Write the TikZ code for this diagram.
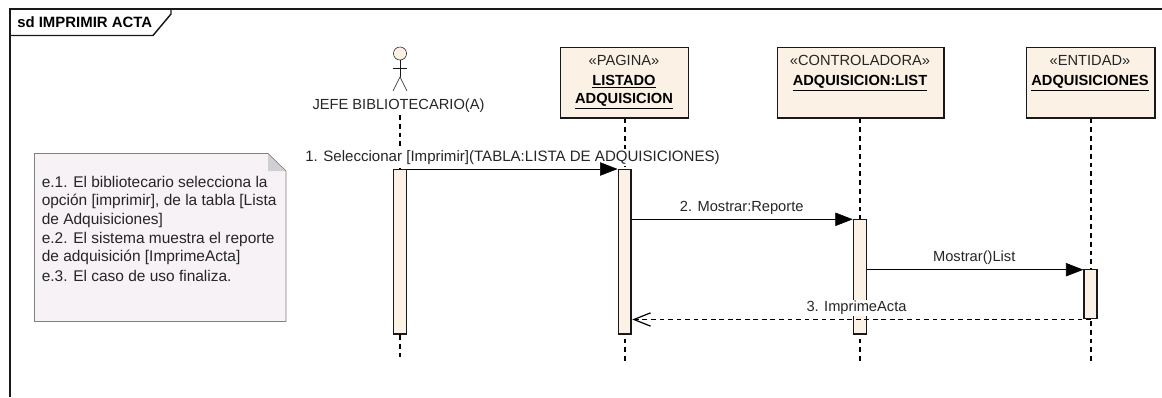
\documentclass[tikz,border=0pt]{standalone}
\usepackage{fontspec}
\setmainfont{Liberation Sans}
\usetikzlibrary{arrows.meta}
\definecolor{cream}{HTML}{FBF2E5}
\definecolor{notefill}{HTML}{F6F2F6}
\definecolor{notegray}{HTML}{808080}
\definecolor{foldgray}{HTML}{D0D0D4}
\tikzset{
  x=0.75pt,y=-0.75pt,
  line width=1pt,
  txt/.style={font=\fontsize{11}{13}\selectfont,inner sep=0pt,text=black!85},
  notetxt/.style={font=\fontsize{11.6}{13}\selectfont,inner sep=0pt,text=black!85,anchor=west},
  lbl/.style={txt,fill=white,inner xsep=1pt,inner ysep=1pt},
  headbox/.style={draw=black!90,fill=cream,line width=1.1pt,minimum height=53pt,inner sep=0pt},
  bar/.style={draw=black!90,fill=cream,inner sep=0pt,line width=1.1pt},
  lifeline/.style={draw=black,dash pattern=on 3.6pt off 3pt,line width=1pt},
  callarrow/.style={-{Triangle[length=13pt,width=10pt]},draw=black},
  retarrow/.style={-{Straight Barb[length=12.5pt,width=10pt,line width=0.9pt]},draw=black,dash pattern=on 3.6pt off 2.8pt},
  stereo/.style={font=\fontsize{11}{13}\selectfont,text=black!85,inner sep=0pt},
  boxname/.style={font=\fontsize{11}{13.5}\selectfont\bfseries,text=black,inner sep=0pt,align=center},
}
\begin{document}
\begin{tikzpicture}
\useasboundingbox (0,0) rectangle (1162,397);
% frame
\coordinate (fTL) at (10,9);
\coordinate (fTR) at (1162,9);
\coordinate (fBL) at (10,397);
\draw[line width=1.1pt,draw=black!90] (fTR) -- (fTL) -- (fBL);
\draw[line width=1.1pt,draw=black!90] (10,35.5) -- (153,35.5) -- (171,14) -- (171,9);
\node[anchor=west,font=\fontsize{11.2}{13}\selectfont\bfseries,inner sep=0pt] (title) at (17,22) {sd IMPRIMIR ACTA};
% note
\draw[draw=notegray,fill=notefill] (34.5,153.5) -- (268,153.5) -- (286,171) -- (286,321.5) -- (34.5,321.5) -- cycle;
\fill[foldgray] (268,153.5) -- (286,171) -- (268,171) -- cycle;
\draw[draw=notegray] (268,153.5) -- (286,171);
\node[notetxt] (n1) at (41.5,182) {e.1. El bibliotecario selecciona la};
\node[notetxt] (n2) at (41.5,201) {opción [imprimir], de la tabla [Lista};
\node[notetxt] (n3) at (41.5,220) {de Adquisiciones]};
\node[notetxt] (n4) at (41.5,239) {e.2. El sistema muestra el reporte};
\node[notetxt] (n5) at (41.5,257.5) {de adquisición [ImprimeActa]};
\node[notetxt] (n6) at (41.5,276) {e.3. El caso de uso finaliza.};
% actor
\node[circle,draw=black!90,fill=cream,minimum size=9.8pt,inner sep=0pt] (head) at (400,53.5) {};
\coordinate (hip) at (400,77);
\coordinate (armL) at (393,68);
\coordinate (armR) at (407,68);
\coordinate (legL) at (393,91);
\coordinate (legR) at (407,91);
\draw[draw=black!90] (head.south) -- (hip);
\draw[draw=black!90] (armL) -- (armR);
\draw[draw=black!90] (legL) -- (hip) -- (legR);
% head boxes
\node[headbox,anchor=north west,minimum width=96.2pt] (pag) at (559.5,46.5) {};
\node[headbox,anchor=north west,minimum width=124.7pt] (ctl) at (777,46.5) {};
\node[headbox,anchor=north west,minimum width=96.2pt] (ent) at (1026,46.5) {};
\node[stereo] (pagS) at (624,60) {«PAGINA»};
\node[boxname] (pagN) at (624,92) {\underline{LISTADO}\\\underline{ADQUISICION}};
\node[stereo] (ctlS) at (860,60) {«CONTROLADORA»};
\node[boxname] (ctlN) at (860,83) {\underline{ADQUISICION:LIST}};
\node[stereo] (entS) at (1090,60) {«ENTIDAD»};
\node[boxname] (entN) at (1090,83) {\underline{ADQUISICIONES}};
% lifeline ends
\coordinate (a0) at (400,115);
\coordinate (a1) at (400,361);
\coordinate (p1) at (625,361.5);
\coordinate (c1) at (860,361.5);
\coordinate (e1) at (1091,361.5);
\draw[lifeline] (a0) -- (a1);
\draw[lifeline] (pag.south -| p1) -- (p1);
\draw[lifeline] (ctl.south -| c1) -- (c1);
\draw[lifeline] (ent.south -| e1) -- (e1);
\node[lbl] (actorL) at (398.5,105.5) {JEFE BIBLIOTECARIO(A)};
% activations
\node[bar,anchor=north west,minimum width=9.75pt,minimum height=123.5pt] (b1) at (392.7,168.7) {};
\node[bar,anchor=north west,minimum width=9.5pt,minimum height=123.5pt] (b2) at (617.7,168.7) {};
\node[bar,anchor=north west,minimum width=9.75pt,minimum height=86pt] (b3) at (852.7,218.7) {};
\node[bar,anchor=north west,minimum width=9.75pt,minimum height=36.5pt] (b4) at (1083.3,269) {};
% messages
\coordinate (m1s) at (406.7,169);
\coordinate (m1e) at (617.5,169);
\coordinate (m2s) at (631.7,219.3);
\coordinate (m2e) at (852.7,219.3);
\coordinate (m3s) at (866.7,269.7);
\coordinate (m3e) at (1083.3,269.7);
\coordinate (m4s) at (1091,319.5);
\coordinate (m4e) at (632.3,319.5);
\node[lbl,font=\fontsize{11.3}{13}\selectfont] (m1L) at (512.5,157.5) {1. Seleccionar [Imprimir](TABLA:LISTA DE ADQUISICIONES)};
\node[lbl] (m2L) at (741.7,208.3) {2. Mostrar:Reporte};
\node[lbl] (m3L) at (974.2,258) {Mostrar()List};
\node[lbl] (m4L) at (856.5,308) {3. ImprimeActa};
\draw[callarrow] (m1s) -- (m1e);
\draw[callarrow] (m2s) -- (m2e);
\draw[callarrow] (m3s) -- (m3e);
\draw[retarrow] (m4s) -- (m4e);
\end{tikzpicture}
\end{document}
